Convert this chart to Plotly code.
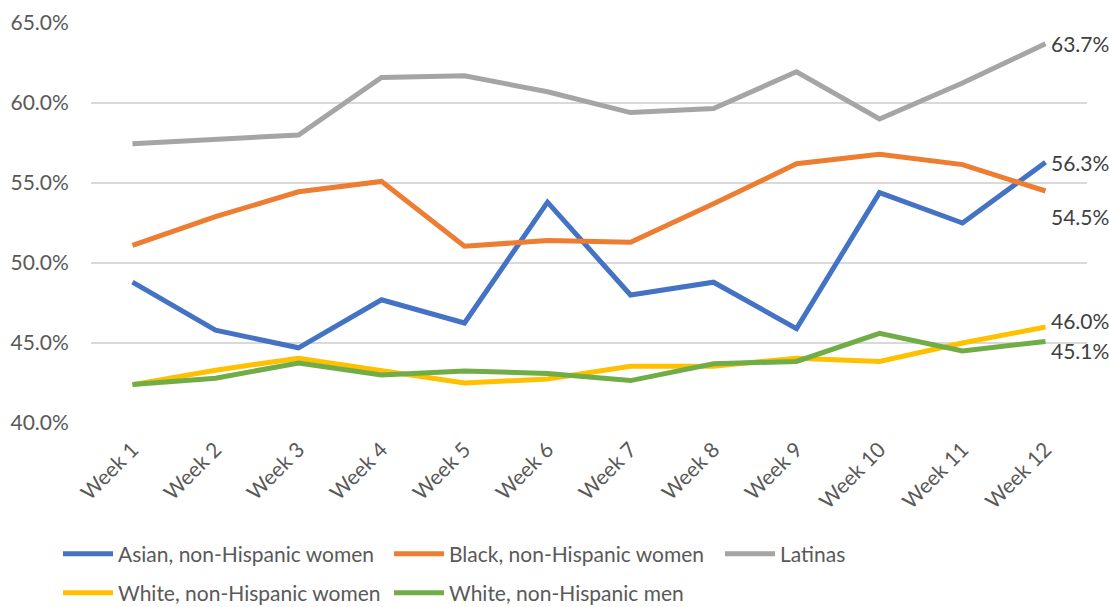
import plotly.graph_objects as go

weeks = ["Week 1", "Week 2", "Week 3", "Week 4", "Week 5", "Week 6",
         "Week 7", "Week 8", "Week 9", "Week 10", "Week 11", "Week 12"]

asian_women = [48.8, 45.8, 44.7, 47.7, 46.25, 53.8, 48.0, 48.8, 45.9, 54.4, 52.5, 56.3]
black_women = [51.1, 52.9, 54.45, 55.1, 51.05, 51.4, 51.3, 53.7, 56.2, 56.8, 56.15, 54.5]
latinas = [57.45, 57.7, 58.0, 61.6, 61.7, 60.7, 59.4, 59.65, 61.95, 59.0, 61.25, 63.7]
white_women = [42.4, 43.3, 44.05, 43.3, 42.5, 42.75, 43.55, 43.55, 44.05, 43.85, 45.0, 46.0]
white_men = [42.4, 42.8, 43.75, 43.0, 43.25, 43.1, 42.65, 43.7, 43.85, 45.6, 44.5, 45.1]

series_names = ["Asian, non-Hispanic women", "Black, non-Hispanic women", "Latinas",
                "White, non-Hispanic women", "White, non-Hispanic men"]
series_values = [asian_women, black_women, latinas, white_women, white_men]
colors = ["#4472C4", "#ED7D31", "#A5A5A5", "#FFC000", "#70AD47"]
legend_rows = ["legend", "legend", "legend", "legend2", "legend2"]
# vertical nudges (px) for the end-of-line value labels
label_shift = [0, -25, 0, 7, -9]

FONT = "Lato"
FS = 21

fig = go.Figure()
for name, vals, col, lg in zip(series_names, series_values, colors, legend_rows):
    fig.add_trace(go.Scatter(
        x=weeks, y=vals, name=name, mode="lines",
        line=dict(color=col, width=5),
        legend=lg,
    ))

for vals, shift in zip(series_values, label_shift):
    fig.add_annotation(
        x=weeks[-1], y=vals[-1], text=f"{vals[-1]:.1f}%",
        showarrow=False, xanchor="left", yanchor="middle",
        xshift=3, yshift=shift,
        font=dict(family=FONT, size=FS, color="#404040"),
    )

legend_common = dict(
    orientation="h", xref="container", yref="container",
    xanchor="left", yanchor="middle",
    entrywidth=266, entrywidthmode="pixels", itemwidth=50,
    font=dict(family=FONT, size=FS, color="#595959"),
    bgcolor="rgba(0,0,0,0)",
)

fig.update_layout(
    width=1109, height=607,
    margin=dict(l=91, r=22, t=23, b=184, autoexpand=False),
    paper_bgcolor="white", plot_bgcolor="white",
    font=dict(family=FONT, size=FS, color="#595959"),
    xaxis=dict(
        type="category", range=[-0.5, 11.5], automargin=False,
        showgrid=False, zeroline=False, showline=False,
        tickangle=-45, ticks="outside", ticklen=5, tickcolor="rgba(0,0,0,0)",
        tickfont=dict(family=FONT, size=FS, color="#595959"),
    ),
    yaxis=dict(
        range=[40, 65], dtick=5, tick0=40, automargin=False,
        ticksuffix="%", tickformat=".1f",
        showgrid=True, gridcolor="#D9D9D9", gridwidth=1.5,
        zeroline=False, showline=False,
        ticks="outside", ticklen=17, tickcolor="rgba(0,0,0,0)",
        tickfont=dict(family=FONT, size=FS, color="#595959"),
    ),
    legend=dict(legend_common, x=(64 - 6) / 1109, y=(607 - 554) / 607),
    legend2=dict(legend_common, x=(64 - 6) / 1109, y=(607 - 593) / 607),
    showlegend=True,
)

fig.write_html("out.html")
